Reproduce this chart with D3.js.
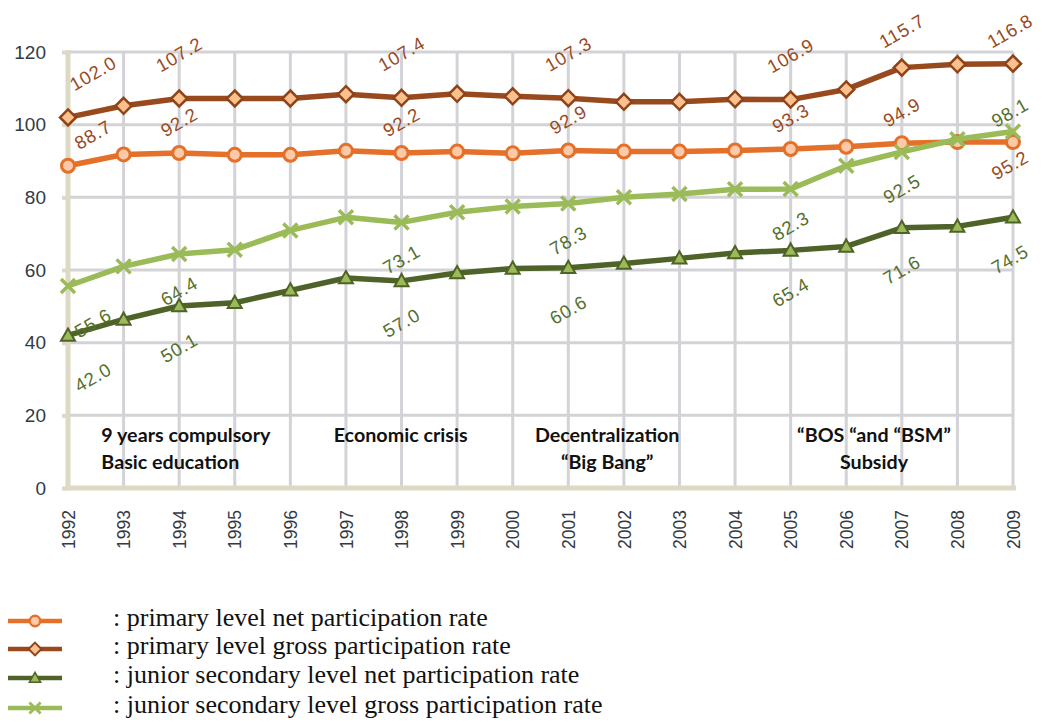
<!DOCTYPE html>
<html><head><meta charset="utf-8">
<script src="https://cdn.jsdelivr.net/npm/d3@7"></script>
<style>
body{margin:0;background:#fff;}
svg{display:block;}
</style></head><body>
<svg id="c" width="1042" height="722"></svg>
<script>
const years = [1992,1993,1994,1995,1996,1997,1998,1999,2000,2001,2002,2003,2004,2005,2006,2007,2008,2009];
const primaryGross = [102.0,105.2,107.2,107.2,107.2,108.4,107.4,108.5,107.8,107.3,106.3,106.3,107.0,106.9,109.7,115.7,116.6,116.8];
const primaryNet   = [88.7,91.8,92.2,91.7,91.7,92.8,92.2,92.6,92.1,92.9,92.6,92.6,92.9,93.3,93.9,94.9,95.2,95.2];
const juniorNet    = [42.0,46.4,50.1,51.0,54.4,57.8,57.0,59.2,60.4,60.6,61.8,63.2,64.7,65.4,66.5,71.6,72.0,74.5];
const juniorGross  = [55.6,61.0,64.4,65.6,70.9,74.5,73.1,75.9,77.5,78.3,80.0,80.9,82.2,82.3,88.7,92.5,96.0,98.1];
const labeledYears = [1992,1994,1998,2001,2005,2007,2009];
const yTicks = [0,20,40,60,80,100,120];
const seriesNames = [
  ": primary level net participation rate",
  ": primary level gross participation rate",
  ": junior secondary level net participation rate",
  ": junior secondary level gross participation rate"
];
const annotations = [
  {lines:["9 years compulsory","Basic education"], anchor:"start", year:1992.6},
  {lines:["Economic crisis"], anchor:"start", year:1996.78},
  {lines:["Decentralization","\u201cBig Bang\u201d"], anchor:"middle", year:2001.7},
  {lines:["\u201cBOS \u201cand \u201cBSM\u201d","Subsidy"], anchor:"middle", year:2006.5}
];

const svg = d3.select("#c");
const x = d3.scaleLinear().domain([1992,2009]).range([68,1013]);
const y = d3.scaleLinear().domain([0,120]).range([488,52]);

const gridColor = "#d3d3d7", axisColor = "#ddd9c4";
svg.append("g").selectAll("line").data(yTicks.filter(d=>d>0)).join("line")
  .attr("x1",x(1992)).attr("x2",x(2009)).attr("y1",d=>y(d)).attr("y2",d=>y(d))
  .attr("stroke",gridColor).attr("stroke-width",3);
svg.append("g").selectAll("line").data(years.slice(1)).join("line")
  .attr("x1",d=>x(d)).attr("x2",d=>x(d)).attr("y1",y(120)).attr("y2",y(0))
  .attr("stroke",gridColor).attr("stroke-width",3);

const yAxis = d3.axisLeft(y).tickValues(yTicks).tickSize(6).tickPadding(16).tickFormat(d3.format("d"));
const gy = svg.append("g").attr("transform",`translate(${x(1992)},0)`).call(yAxis);
gy.select(".domain").attr("stroke",axisColor).attr("stroke-width",5).attr("d",`M0,${y(120)-2}V${y(0)+2}`);
gy.selectAll(".tick line").attr("stroke",axisColor).attr("stroke-width",4);
gy.selectAll(".tick text").attr("font-family","Liberation Sans, Arial, sans-serif").attr("font-size",19).attr("fill","#333a45");

const xAxis = d3.axisBottom(x).tickValues(years).tickSize(0).tickFormat(d3.format("d"));
const gx = svg.append("g").attr("transform",`translate(0,${y(0)})`).call(xAxis);
gx.select(".domain").attr("stroke",axisColor).attr("stroke-width",5).attr("d",`M${x(1992)-3},0H${x(2009)+3}`);
gx.selectAll(".tick text").attr("font-family","Liberation Sans, Arial, sans-serif").attr("font-size",17.5).attr("fill","#333a45")
  .attr("transform","rotate(-90)").attr("text-anchor","end").attr("dy","0.35em").attr("x",-22).attr("y",0);

annotations.forEach(a=>{
  a.lines.forEach((t,i)=>{
    svg.append("text").attr("x",x(a.year)).attr("y",442+i*27).attr("text-anchor",a.anchor)
      .attr("font-family","Lato, Open Sans, sans-serif").attr("font-weight","bold").attr("font-size",19.7)
      .attr("fill","#111").text(t);
  });
});

const series = [
  {vals:primaryGross, line:"#984a1e", fill:"#fbc08e", stroke:"#8e4418", marker:"diamond", lab:"#9a4a22", dy:-44, flipLast:false},
  {vals:primaryNet, line:"#e4702a", fill:"#fccaa8", stroke:"#e4702a", marker:"circle", lab:"#9a4a22", dy:-31, flipLast:true, flipDy:23},
  {vals:juniorNet, line:"#4f6328", fill:"#9bbb59", stroke:"#4f6328", marker:"triangle", lab:"#54702e", dy:42, flipLast:false},
  {vals:juniorGross, line:"#9bbb59", fill:"none", stroke:"#9bbb59", marker:"cross", lab:"#54702e", dy:37, flipLast:true, flipDy:-19}
];

const lineGen = d3.line().x((d,i)=>x(years[i])).y(d=>y(d));

function drawMarker(g, kind, s, cx, cy, scale){
  scale = scale||1;
  if(kind==="diamond"){
    const r=8*scale;
    g.append("path").attr("d",`M${cx},${cy-r}L${cx+r},${cy}L${cx},${cy+r}L${cx-r},${cy}Z`)
      .attr("fill",s.fill).attr("stroke",s.stroke).attr("stroke-width",2.5*scale);
  } else if(kind==="circle"){
    g.append("circle").attr("cx",cx).attr("cy",cy).attr("r",6.5*scale)
      .attr("fill",s.fill).attr("stroke",s.stroke).attr("stroke-width",3*scale);
  } else if(kind==="triangle"){
    const r=7*scale;
    g.append("path").attr("d",`M${cx},${cy-r}L${cx+r},${cy+r*0.75}L${cx-r},${cy+r*0.75}Z`)
      .attr("fill",s.fill).attr("stroke",s.stroke).attr("stroke-width",2*scale);
  } else {
    const r=7*scale;
    g.append("path").attr("d",`M${cx-r},${cy-r}L${cx+r},${cy+r}M${cx-r},${cy+r}L${cx+r},${cy-r}`)
      .attr("stroke",s.stroke).attr("stroke-width",3.5*scale).attr("fill","none");
  }
}

series.forEach(s=>{
  const g = svg.append("g");
  g.append("path").datum(s.vals).attr("d",lineGen).attr("fill","none")
    .attr("stroke",s.line).attr("stroke-width",5.5).attr("stroke-linejoin","round");
  s.vals.forEach((v,i)=>drawMarker(g,s.marker,s,x(years[i]),y(v)));
});

series.forEach(s=>{
  labeledYears.forEach(yr=>{
    const i = years.indexOf(yr), v = s.vals[i];
    const last = (yr===2009 && s.flipLast);
    let cx = x(yr), cy = y(v) + (last ? s.flipDy : s.dy);
    cx = Math.max(93, Math.min(1010, cx + (last?3:0)));
    cy = Math.max(31, cy);
    svg.append("text").attr("transform",`translate(${cx},${cy}) rotate(-30)`)
      .attr("text-anchor","middle").attr("dominant-baseline","central")
      .attr("font-family","Liberation Sans, Arial, sans-serif").attr("font-size",18.5)
      .attr("letter-spacing",0.8).attr("fill",s.lab).text(v.toFixed(1));
  });
});

const legendY = [621,649,678,708];
const legOrder = [1,0,2,3];
legOrder.forEach((si,k)=>{
  const s = series[si], ly = legendY[k];
  const g = svg.append("g");
  g.append("line").attr("x1",8).attr("x2",62).attr("y1",ly).attr("y2",ly).attr("stroke",s.line).attr("stroke-width",4.5);
  drawMarker(g,s.marker,s,35,ly,0.8);
  svg.append("text").attr("x",113).attr("y",ly).attr("dy","0.2em")
    .attr("font-family","Liberation Serif, Times New Roman, serif").attr("font-size",26)
    .attr("fill","#111").text(seriesNames[k]);
});
</script>
</body></html>
